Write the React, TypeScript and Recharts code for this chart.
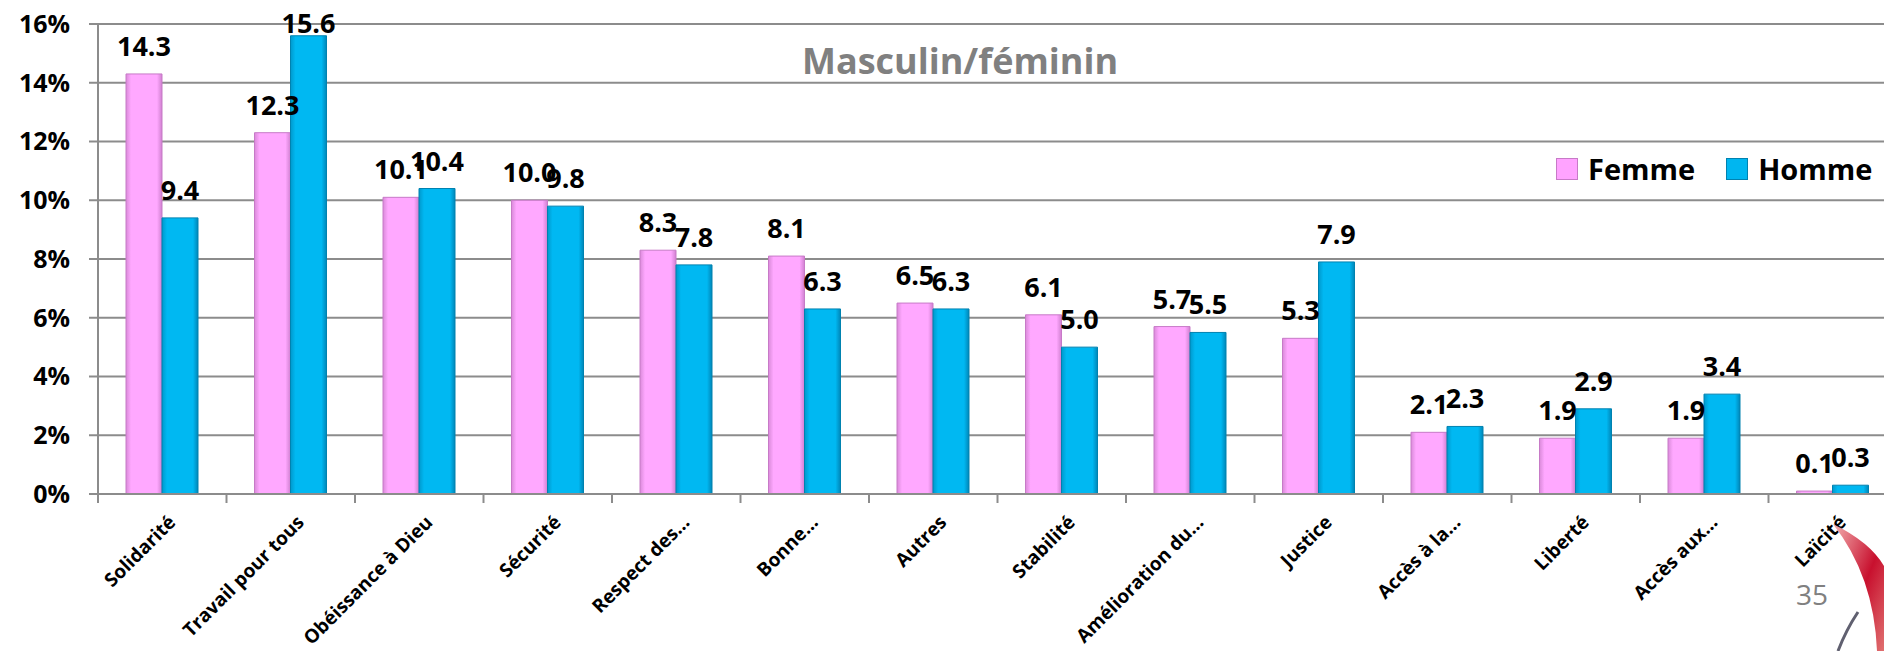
import React from 'react';
import { BarChart, Bar, XAxis, YAxis, CartesianGrid, LabelList } from 'recharts';

const categories = [
  'Solidarité',
  'Travail pour tous',
  'Obéissance à Dieu',
  'Sécurité',
  'Respect des…',
  'Bonne…',
  'Autres',
  'Stabilité',
  'Amélioration du…',
  'Justice',
  'Accès à la…',
  'Liberté',
  'Accès aux…',
  'Laïcité',
];
const femme = [14.3, 12.3, 10.1, 10.0, 8.3, 8.1, 6.5, 6.1, 5.7, 5.3, 2.1, 1.9, 1.9, 0.1];
const homme = [9.4, 15.6, 10.4, 9.8, 7.8, 6.3, 6.3, 5.0, 5.5, 7.9, 2.3, 2.9, 3.4, 0.3];
const yTicks = [0, 2, 4, 6, 8, 10, 12, 14, 16];

const data = categories.map((name, i) => ({ name, Femme: femme[i], Homme: homme[i] }));

// layout
const W = 1910;
const H = 651;
const Y_AXIS_W = 98;
const MARGIN = { top: 24, right: 13, bottom: 0, left: 0 };
const BAND = (W - Y_AXIS_W - MARGIN.left - MARGIN.right) / categories.length;
const GRID = '#8c8c8c';

const legendItems = [
  { name: 'Femme', color: '#FFA3FF', edge: '#c77ac7' },
  { name: 'Homme', color: '#00B6F0', edge: '#0082b0' },
];

const CategoryTick = (props: any) => {
  const { x, y, payload } = props;
  const left = x - BAND / 2;
  return (
    <g>
      <line x1={left} y1={y} x2={left} y2={y + 9} stroke={GRID} strokeWidth={2} />
      <g transform={`translate(${x + 5},${y + 20})`}>
        <text textAnchor="end" transform="rotate(-45)" dy={13.5} fontSize={19} fontWeight={700} fill="#000">
          {payload.value}
        </text>
      </g>
    </g>
  );
};

const fmt = (v: number) => v.toFixed(1);

// value above the bar, kept inside the top of the picture
const ValueLabel = (props: any) => {
  const { x, y, width, value } = props;
  const base = Math.max(y - 18, 33);
  return (
    <text x={x + width / 2} y={base} textAnchor="middle" fontSize={27} fontWeight={700} fill="#000">
      {fmt(value)}
    </text>
  );
};

export default function App() {
  return (
    <div
      style={{
        position: 'absolute',
        left: 0,
        top: 0,
        width: 1884,
        height: 651,
        overflow: 'hidden',
        background: '#fff',
        fontFamily: '"Open Sans", sans-serif',
      }}
    >
      <BarChart width={W} height={H} data={data} margin={MARGIN} barGap={0} barSize={36}>
        <defs>
          <linearGradient id="gPink" x1="0" y1="0" x2="1" y2="0">
            <stop offset="0%" stopColor="#d98ad9" />
            <stop offset="14%" stopColor="#ffa8ff" />
            <stop offset="86%" stopColor="#ffa8ff" />
            <stop offset="100%" stopColor="#d080d0" />
          </linearGradient>
          <linearGradient id="gBlue" x1="0" y1="0" x2="1" y2="0">
            <stop offset="0%" stopColor="#0098cc" />
            <stop offset="14%" stopColor="#00b8f2" />
            <stop offset="86%" stopColor="#00b8f2" />
            <stop offset="100%" stopColor="#0086b8" />
          </linearGradient>
          <linearGradient id="gSwoosh" x1="0" y1="0" x2="1" y2="1">
            <stop offset="0%" stopColor="#f3b0b0" />
            <stop offset="55%" stopColor="#c8102e" />
            <stop offset="100%" stopColor="#e07070" />
          </linearGradient>
        </defs>
        <CartesianGrid horizontal vertical={false} stroke={GRID} strokeWidth={2} />
        <XAxis
          dataKey="name"
          type="category"
          interval={0}
          height={H - 494}
          axisLine={{ stroke: GRID, strokeWidth: 2 }}
          tickLine={false}
          tickSize={0}
          tickMargin={0}
          tick={<CategoryTick />}
        />
        <YAxis
          width={Y_AXIS_W}
          domain={[0, 16]}
          ticks={yTicks}
          interval={0}
          tickFormatter={(v: number) => `${v}%`}
          axisLine={{ stroke: GRID, strokeWidth: 2 }}
          tickLine={{ stroke: GRID, strokeWidth: 2 }}
          tickSize={9}
          tickMargin={19}
          tick={{ fontSize: 25, fontWeight: 700, fill: '#000' }}
        />
        <Bar dataKey="Femme" fill="url(#gPink)" stroke="#c77ac7" strokeWidth={1} isAnimationActive={false}>
          <LabelList dataKey="Femme" content={<ValueLabel />} />
        </Bar>
        <Bar dataKey="Homme" fill="url(#gBlue)" stroke="#0082b0" strokeWidth={1} isAnimationActive={false}>
          <LabelList dataKey="Homme" content={<ValueLabel />} />
        </Bar>
      </BarChart>

      <div
        style={{
          position: 'absolute',
          left: 710,
          width: 500,
          top: 43,
          textAlign: 'center',
          fontSize: 36,
          lineHeight: 1,
          fontWeight: 700,
          color: '#808080',
        }}
      >
        Masculin/féminin
      </div>

      <div
        style={{
          position: 'absolute',
          left: 1556,
          top: 154,
          display: 'flex',
          alignItems: 'center',
          fontSize: 29,
          lineHeight: 1,
          fontWeight: 700,
          color: '#000',
        }}
      >
        {legendItems.map((it, i) => (
          <div key={it.name} style={{ display: 'flex', alignItems: 'center', marginLeft: i ? 31 : 0 }}>
            <span
              style={{
                display: 'inline-block',
                width: 20,
                height: 20,
                background: it.color,
                border: `1px solid ${it.edge}`,
                marginRight: 10,
              }}
            />
            <span>{it.name}</span>
          </div>
        ))}
      </div>

      <div
        style={{
          position: 'absolute',
          left: 1796,
          top: 580,
          fontSize: 28,
          lineHeight: 1,
          color: '#808080',
        }}
      >
        35
      </div>

      <svg
        width={1884}
        height={651}
        style={{ position: 'absolute', left: 0, top: 0, pointerEvents: 'none' }}
      >
        <path d="M 1833 524 Q 1870 542 1884 566 L 1884 651 L 1877 651 Q 1874 576 1833 524 Z" fill="url(#gSwoosh)" />
        <path d="M 1838 651 Q 1846 630 1858 612" stroke="#606070" strokeWidth={3} fill="none" />
      </svg>
    </div>
  );
}
